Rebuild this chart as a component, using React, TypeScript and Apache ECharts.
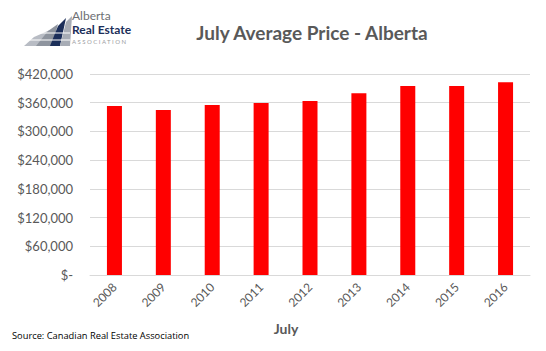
import React, { useEffect, useRef } from "react";
import * as echarts from "echarts";

const years = ["2008", "2009", "2010", "2011", "2012", "2013", "2014", "2015", "2016"];
const avgPrice = [353000, 345000, 355000, 359500, 363500, 380000, 395000, 395000, 403000];
const yTicks = [0, 60000, 120000, 180000, 240000, 300000, 360000, 420000];

const fmt = (v: number) => (v === 0 ? "$-" : "$" + v.toLocaleString("en-US"));

export default function App() {
  const ref = useRef<HTMLDivElement>(null);
  useEffect(() => {
    const chart = echarts.init(ref.current!, null, { renderer: "svg" });
    chart.setOption({
      animation: false,
      backgroundColor: "#ffffff",
      title: {
        text: "July Average Price - Alberta",
        left: 307,
        top: 18,
        textAlign: "center",
        textStyle: { fontFamily: "Lato", fontWeight: "bold", fontSize: 19, color: "#595959" },
      },
      grid: { left: 90, right: 16, top: 74, bottom: 76, containLabel: false },
      xAxis: {
        type: "category",
        data: years,
        name: "July",
        nameLocation: "middle",
        nameGap: 46,
        nameTextStyle: { fontFamily: "Lato", fontWeight: "bold", fontSize: 14, color: "#595959", padding: [0, 48, 0, 0] },
        axisLine: { lineStyle: { color: "#d9d9d9", width: 1 } },
        axisTick: { show: false },
        axisLabel: { rotate: 45, fontFamily: "Lato", fontSize: 12, color: "#595959", margin: 10 },
      },
      yAxis: {
        type: "value",
        min: 0,
        max: yTicks[yTicks.length - 1],
        interval: 60000,
        axisLine: { show: false },
        axisTick: { show: false },
        splitLine: { lineStyle: { color: "#d9d9d9", width: 1 } },
        axisLabel: {
          fontFamily: "Lato",
          fontSize: 13,
          color: "#595959",
          margin: 17,
          formatter: (v: number) => fmt(v),
        },
      },
      series: [
        {
          type: "bar",
          data: avgPrice,
          barWidth: 15,
          itemStyle: { color: "#ff0000" },
        },
      ],
      graphic: [
        { type: "polygon", shape: { points: [[24, 46], [34, 37], [50, 30], [44, 46]] }, style: { fill: "#b8bcc4" } },
        { type: "polygon", shape: { points: [[36, 46], [48, 31], [58, 24], [52, 46]] }, style: { fill: "#8e949e" } },
        { type: "polygon", shape: { points: [[50, 46], [58, 26], [66, 18], [60, 46]] }, style: { fill: "#1c2f5a" } },
        { type: "polygon", shape: { points: [[60, 46], [66, 22], [72, 16], [70, 46]] }, style: { fill: "#a7acb5" } },
        { type: "line", shape: { x1: 30, y1: 40, x2: 70, y2: 40 }, style: { stroke: "#ffffff", lineWidth: 1 } },
        { type: "line", shape: { x1: 40, y1: 33, x2: 70, y2: 33 }, style: { stroke: "#ffffff", lineWidth: 1 } },
        { type: "text", x: 72, y: 9.5, style: { text: "Alberta", fontFamily: "Lato", fontSize: 12, lineHeight: 12, fill: "#6d6f73" } },
        { type: "text", x: 72, y: 23.5, style: { text: "Real Estate", fontFamily: "Lato", fontWeight: "bold", fontSize: 12, lineHeight: 12, fill: "#1c2f5a" } },
        { type: "text", x: 72, y: 38, style: { text: "A S S O C I A T I O N", fontFamily: "Lato", fontSize: 6, lineHeight: 6, fill: "#9a9ca0" } },
        { type: "text", x: 12, y: 331, style: { text: "Source: Canadian Real Estate Association", fontFamily: "Open Sans", fontSize: 9.3, fill: "#000000" } },
      ],
    });
    return () => chart.dispose();
  }, []);
  return <div ref={ref} style={{ width: 546, height: 351, position: "absolute", left: 0, top: 0 }} />;
}
